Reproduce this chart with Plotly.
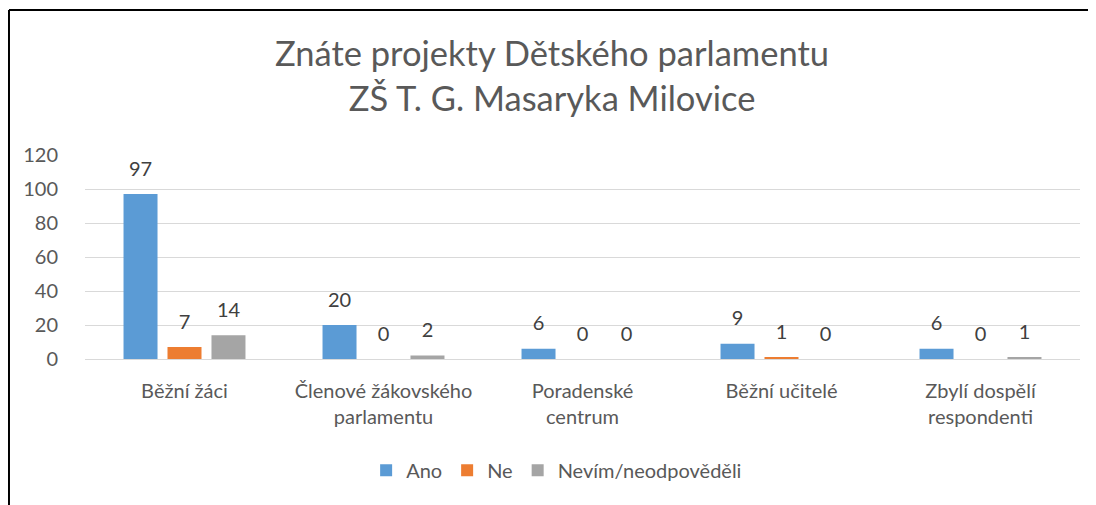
import plotly.graph_objects as go

categories = ["Běžní žáci", "Členové žákovského<br>parlamentu", "Poradenské<br>centrum",
              "Běžní učitelé", "Zbylí dospělí<br>respondenti"]
ano = [97, 20, 6, 9, 6]
ne = [7, 0, 0, 1, 0]
nevim = [14, 2, 0, 0, 1]
series_names = ["Ano", "Ne", "Nevím/neodpověděli"]
colors = ["#5B9BD5", "#ED7D31", "#A5A5A5"]
y_ticks = [0, 20, 40, 60, 80, 100, 120]

FONT = "Lato"
TXT = "#595959"

fig = go.Figure()
for name, vals, col in zip(series_names, [ano, ne, nevim], colors):
    fig.add_trace(go.Bar(name=name, x=categories, y=vals, marker_color=col,
                         offsetgroup=name, marker_line_width=0))
for name, vals in zip(series_names, [ano, ne, nevim]):
    fig.add_trace(go.Scatter(x=categories, y=vals, mode="markers+text", text=[str(v) for v in vals],
                             textposition="top center", offsetgroup=name,
                             marker=dict(size=20, opacity=0), showlegend=False,
                             textfont=dict(family=FONT, size=20, color="#404040"),
                             hoverinfo="skip", cliponaxis=False))

fig.update_layout(
    width=1088, height=497,
    paper_bgcolor="white", plot_bgcolor="white",
    barmode="group", scattermode="group",
    bargap=0.337, bargroupgap=0.227, scattergap=0.337,
    margin=dict(l=77, r=16, t=147, b=146),
    font=dict(family=FONT, size=20, color=TXT),
    title=dict(text="Znáte projekty Dětského parlamentu<br>ZŠ T. G. Masaryka Milovice",
               x=0.5, xanchor="center", xref="container", y=0.883, yanchor="top", yref="container",
               font=dict(family=FONT, size=34.5, color=TXT)),
    legend=dict(orientation="h", x=0.474, xanchor="center", y=-0.545, yanchor="middle",
                font=dict(family=FONT, size=20, color=TXT), itemwidth=30, traceorder="normal"),
    xaxis=dict(showgrid=False, showline=False, ticks="outside", ticklen=14, tickcolor="rgba(0,0,0,0)",
               tickfont=dict(family=FONT, size=20, color=TXT)),
    yaxis=dict(range=[0, 120], tickvals=y_ticks, showgrid=True, gridcolor="#D9D9D9", gridwidth=1,
               zeroline=True, zerolinecolor="#D9D9D9", zerolinewidth=1, showline=False,
               ticks="outside", ticklen=22, tickcolor="rgba(0,0,0,0)",
               tickfont=dict(family=FONT, size=20, color=TXT)),
    showlegend=True,
)
# chart frame (left and top edges)
fig.add_shape(type="line", xref="paper", yref="paper", x0=-0.0764, x1=1.016, y0=1.711, y1=1.711,
              line=dict(color="#000000", width=2))
fig.add_shape(type="line", xref="paper", yref="paper", x0=-0.0764, x1=-0.0764, y0=-0.72, y1=1.711,
              line=dict(color="#000000", width=2))

fig.write_html("out.html",
               post_script="document.documentElement.style.overflow='hidden';"
                           "document.body.style.overflow='hidden';")
